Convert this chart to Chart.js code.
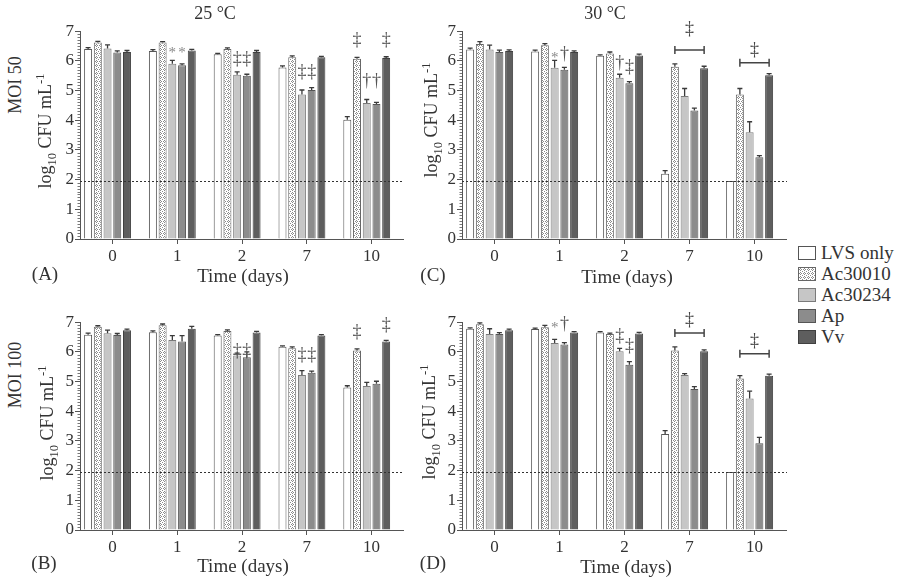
<!DOCTYPE html>
<html><head><meta charset="utf-8">
<script src="https://cdn.jsdelivr.net/npm/chart.js@4/dist/chart.umd.min.js"></script>
<style>
body{margin:0;background:#fff;width:900px;height:583px;position:relative;overflow:hidden;font-family:'Liberation Serif','Times New Roman',serif;color:#333}
canvas{position:absolute}
.t{position:absolute;white-space:nowrap;color:#333;line-height:1;transform:translate(-50%,-50%)}
.r{transform:translate(-50%,-50%) rotate(-90deg)}
.t sub,.t sup{font-size:70%;line-height:0}
.lg{position:absolute;left:798px;font-size:19px;color:#333;line-height:1}
.lg div{height:21px;display:flex;align-items:center;white-space:nowrap}
.lg span.sw{display:inline-block;width:16px;height:12px;border:1px solid #555;margin-right:5px;box-sizing:content-box}
</style></head>
<body>
<canvas id="cA" width="349" height="247" style="left:55px;top:20px"></canvas>
<canvas id="cC" width="350" height="247" style="left:437px;top:20px"></canvas>
<canvas id="cB" width="349" height="247" style="left:55px;top:311px"></canvas>
<canvas id="cD" width="350" height="247" style="left:437px;top:311px"></canvas>

<div class="t" style="left:215px;top:13px;font-size:18px">25 °C</div>
<div class="t" style="left:605px;top:13px;font-size:18px">30 °C</div>
<div class="t r" style="left:15px;top:85px;font-size:18px">MOI 50</div>
<div class="t r" style="left:15px;top:375px;font-size:18px">MOI 100</div>
<div class="t r" style="left:45px;top:131px;font-size:18px">log<sub>10</sub> CFU mL<sup>-1</sup></div>
<div class="t r" style="left:431px;top:120px;font-size:18px">log<sub>10</sub> CFU mL<sup>-1</sup></div>
<div class="t r" style="left:47px;top:423px;font-size:18px">log<sub>10</sub> CFU mL<sup>-1</sup></div>
<div class="t r" style="left:429px;top:422px;font-size:18px">log<sub>10</sub> CFU mL<sup>-1</sup></div>
<div class="t" style="left:243px;top:275px;font-size:19px">Time (days)</div>
<div class="t" style="left:627px;top:276px;font-size:19px">Time (days)</div>
<div class="t" style="left:243px;top:565px;font-size:19px">Time (days)</div>
<div class="t" style="left:626px;top:566px;font-size:19px">Time (days)</div>
<div class="t" style="left:45px;top:273px;font-size:19px">(A)</div>
<div class="t" style="left:433px;top:274px;font-size:19px">(C)</div>
<div class="t" style="left:44px;top:562px;font-size:19px">(B)</div>
<div class="t" style="left:433px;top:562px;font-size:19px">(D)</div>
<div class="lg" id="legend" style="top:242px"></div>

<script>
const days = ['0','1','2','7','10'];
const seriesNames = ['LVS only','Ac30010','Ac30234','Ap','Vv'];
const lodValue = 1.95;

// Panel A: MOI 50, 25 °C (rows: series, columns: days)
const valuesA = [
  [6.40, 6.33, 6.22, 5.78, 4.02],
  [6.62, 6.62, 6.40, 6.12, 6.07],
  [6.42, 5.90, 5.53, 4.87, 4.58],
  [6.28, 5.85, 5.50, 5.02, 4.55],
  [6.30, 6.35, 6.30, 6.12, 6.10]
];
const errorsA = [
  [0.05, 0.05, 0.03, 0.05, 0.10],
  [0.04, 0.03, 0.04, 0.05, 0.05],
  [0.12, 0.12, 0.10, 0.15, 0.12],
  [0.06, 0.05, 0.05, 0.08, 0.05],
  [0.05, 0.04, 0.05, 0.03, 0.04]
];
// Panel C: MOI 50, 30 °C
const valuesC = [
  [6.38, 6.32, 6.17, 2.20, 1.95],
  [6.57, 6.53, 6.25, 5.80, 4.87],
  [6.38, 5.77, 5.43, 4.82, 3.60],
  [6.30, 5.70, 5.25, 4.33, 2.75],
  [6.33, 6.30, 6.18, 5.75, 5.52]
];
const errorsC = [
  [0.05, 0.04, 0.03, 0.10, 0],
  [0.08, 0.05, 0.05, 0.10, 0.20],
  [0.15, 0.25, 0.12, 0.25, 0.35],
  [0.06, 0.08, 0.05, 0.08, 0.06],
  [0.04, 0.04, 0.05, 0.07, 0.05]
];
// Panel B: MOI 100, 25 °C
const valuesB = [
  [6.58, 6.66, 6.55, 6.17, 4.80],
  [6.85, 6.90, 6.70, 6.12, 6.05],
  [6.63, 6.40, 5.88, 5.22, 4.85],
  [6.57, 6.35, 5.82, 5.30, 4.93],
  [6.73, 6.78, 6.65, 6.55, 6.35]
];
const errorsB = [
  [0.05, 0.05, 0.03, 0.03, 0.06],
  [0.03, 0.04, 0.04, 0.05, 0.05],
  [0.10, 0.15, 0.08, 0.15, 0.12],
  [0.05, 0.20, 0.18, 0.05, 0.08],
  [0.04, 0.08, 0.04, 0.03, 0.04]
];
// Panel D: MOI 100, 30 °C
const valuesD = [
  [6.78, 6.77, 6.65, 3.23, 1.95],
  [6.93, 6.83, 6.60, 6.05, 5.10],
  [6.60, 6.30, 6.02, 5.22, 4.43],
  [6.60, 6.25, 5.57, 4.75, 2.92],
  [6.73, 6.65, 6.62, 6.02, 5.20]
];
const errorsD = [
  [0.03, 0.03, 0.03, 0.12, 0],
  [0.05, 0.06, 0.03, 0.12, 0.10],
  [0.18, 0.12, 0.10, 0.05, 0.25],
  [0.05, 0.06, 0.10, 0.08, 0.20],
  [0.04, 0.03, 0.04, 0.05, 0.05]
];
// significance marks: [day index, series index, value level, symbol]
const symbolsA = [[1,2,6.35,'*'],[1,3,6.35,'*'],[2,2,6.07,'‡'],[2,3,6.07,'‡'],[3,2,5.62,'‡'],[3,3,5.62,'‡'],[4,1,6.7,'‡'],[4,4,6.7,'‡'],[4,2,5.33,'†'],[4,3,5.3,'†']];
const symbolsC = [[1,2,6.2,'*'],[1,3,6.22,'†'],[2,2,5.92,'†'],[2,3,5.8,'‡']];
const symbolsB = [[2,2,6.02,'‡'],[2,3,6.02,'‡'],[3,2,5.9,'‡'],[3,3,5.9,'‡'],[4,1,6.67,'‡'],[4,4,6.9,'‡']];
const symbolsD = [[1,2,6.9,'*'],[1,3,6.92,'†'],[2,2,6.52,'‡'],[2,3,6.2,'‡']];
// brackets: [day index, from series, to series, bracket level, symbol level]
const bracketsA = [];
const bracketsB = [];
const bracketsC = [[3,1,4,6.37,7.05],[4,1,4,5.94,6.35]];
const bracketsD = [[3,1,4,6.64,7.05],[4,1,4,5.94,6.35]];

const FONT = "'Liberation Serif','Times New Roman',serif";

// dotted pattern for Ac30010
const pc = document.createElement('canvas'); pc.width = 4; pc.height = 4;
const pctx = pc.getContext('2d');
pctx.fillStyle = '#fff'; pctx.fillRect(0,0,4,4);
pctx.fillStyle = '#8a8a8a';
[[1,0],[0,1],[2,1],[1,2],[3,3]].forEach(p => pctx.fillRect(p[0],p[1],1,1));
const dotPattern = pctx.createPattern(pc, 'repeat');

const fills = ['#ffffff', dotPattern, '#c6c6c6', '#8c8c8c', '#5e5e5e'];
const borders = ['#555555', '#666666', '#7a7a7a', '#555555', '#404040'];

// legend
const lg = document.getElementById('legend');
seriesNames.forEach((n,i) => {
  const row = document.createElement('div');
  const sw = document.createElement('span'); sw.className = 'sw';
  if (i === 1) { sw.style.background = 'url(' + pc.toDataURL() + ')'; }
  else sw.style.background = fills[i];
  sw.style.borderColor = borders[i];
  row.appendChild(sw);
  row.appendChild(document.createTextNode(n));
  lg.appendChild(row);
});

const marksPlugin = {
  id: 'marks',
  afterDraw(chart, args, opts) {
    const ctx = chart.ctx, y = chart.scales.y, a = chart.chartArea;
    ctx.save();
    // minor ticks on y axis
    ctx.strokeStyle = '#777'; ctx.lineWidth = 1;
    for (let i = 0; i <= 70; i++) {
      if (i % 10 === 0) continue;
      const py = Math.round(y.getPixelForValue(i / 10)) + 0.5;
      ctx.beginPath(); ctx.moveTo(a.left - 2.5, py); ctx.lineTo(a.left, py); ctx.stroke();
    }
    // error bars
    ctx.strokeStyle = '#3a3a3a'; ctx.lineWidth = 1.3;
    opts.errors.forEach((row, si) => {
      const meta = chart.getDatasetMeta(si);
      row.forEach((e, di) => {
        if (!e) return;
        const v = chart.data.datasets[si].data[di];
        const bx = meta.data[di].x;
        const pTop = y.getPixelForValue(v + e), pBase = y.getPixelForValue(v);
        ctx.beginPath(); ctx.moveTo(bx, pBase); ctx.lineTo(bx, pTop);
        ctx.moveTo(bx - 2.5, pTop); ctx.lineTo(bx + 2.5, pTop); ctx.stroke();
      });
    });
    // detection limit line
    ctx.strokeStyle = '#333'; ctx.lineWidth = 1; ctx.setLineDash([2, 2]);
    const ly = Math.round(y.getPixelForValue(opts.lod)) + 0.5;
    ctx.beginPath(); ctx.moveTo(a.left, ly); ctx.lineTo(a.right, ly); ctx.stroke();
    ctx.setLineDash([]);
    // symbols
    ctx.textAlign = 'center'; ctx.textBaseline = 'middle';
    opts.symbols.forEach(s => {
      const bx = chart.getDatasetMeta(s[1]).data[s[0]].x;
      const py = y.getPixelForValue(s[2]);
      ctx.fillStyle = s[3] === '*' ? '#888' : '#555';
      ctx.font = (s[3] === '*' ? '15px ' : '18px ') + FONT;
      ctx.fillText(s[3], bx, py + (s[3] === '*' ? 3 : 0));
    });
    // brackets
    ctx.strokeStyle = '#444'; ctx.lineWidth = 1.5;
    opts.brackets.forEach(b => {
      const x1 = chart.getDatasetMeta(b[1]).data[b[0]].x;
      const x2 = chart.getDatasetMeta(b[2]).data[b[0]].x;
      const py = y.getPixelForValue(b[3]);
      ctx.beginPath();
      ctx.moveTo(x1, py); ctx.lineTo(x2, py);
      ctx.moveTo(x1, py - 4); ctx.lineTo(x1, py + 4);
      ctx.moveTo(x2, py - 4); ctx.lineTo(x2, py + 4);
      ctx.stroke();
      ctx.fillStyle = '#444'; ctx.font = '18px ' + FONT;
      ctx.fillText('‡', (x1 + x2) / 2, y.getPixelForValue(b[4]));
    });
    ctx.restore();
  }
};

function makePanel(id, values, errors, symbols, brackets) {
  const datasets = values.map((row, i) => ({
    label: seriesNames[i], data: row,
    backgroundColor: fills[i], borderColor: borders[i], borderWidth: 1
  }));
  // empty spacer slot (keeps group left of the tick as in the original)
  datasets.push({ label: '', data: days.map(() => null), backgroundColor: 'rgba(0,0,0,0)', borderWidth: 0 });
  new Chart(document.getElementById(id), {
    type: 'bar',
    data: { labels: days, datasets },
    options: {
      responsive: false, animation: false,
      layout: { padding: { top: 9, left: 0, right: 0, bottom: 0 } },
      datasets: { bar: { categoryPercentage: 0.9, barPercentage: 0.82 } },
      plugins: {
        legend: { display: false }, tooltip: { enabled: false },
        marks: { errors, symbols, brackets, lod: lodValue }
      },
      scales: {
        x: {
          grid: { offset: false, drawOnChartArea: false, tickLength: 5, color: '#555' },
          border: { color: '#555', width: 1 },
          ticks: { font: { family: FONT, size: 17 }, color: '#333', padding: 2 },
          afterFit(s) { s.height = 28; }
        },
        y: {
          min: 0, max: 7,
          grid: { drawOnChartArea: false, tickLength: 5, color: '#555' },
          border: { color: '#555', width: 1 },
          ticks: { stepSize: 1, font: { family: FONT, size: 17 }, color: '#333', padding: 1 },
          afterFit(s) { s.width = 25; }
        }
      }
    },
    plugins: [marksPlugin]
  });
}

makePanel('cA', valuesA, errorsA, symbolsA, bracketsA);
makePanel('cC', valuesC, errorsC, symbolsC, bracketsC);
makePanel('cB', valuesB, errorsB, symbolsB, bracketsB);
makePanel('cD', valuesD, errorsD, symbolsD, bracketsD);
</script>
</body></html>
